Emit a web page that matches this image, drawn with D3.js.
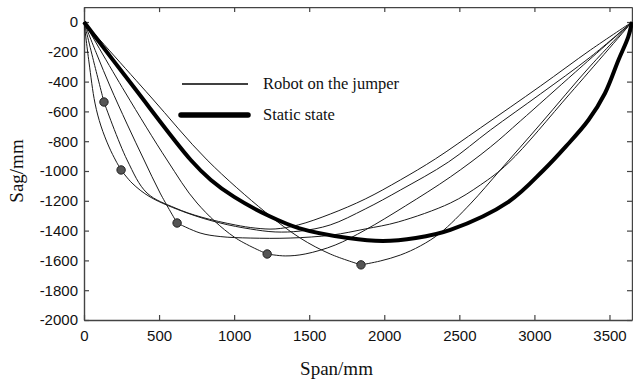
<!DOCTYPE html>
<html><head><meta charset="utf-8">
<script src="https://cdn.jsdelivr.net/npm/d3@7"></script>
<style>body{margin:0;background:#fff}svg{display:block}</style>
</head><body>
<svg id="c" width="633" height="386"></svg>
<script>
// ---------- data ----------
const xTicks = [0, 500, 1000, 1500, 2000, 2500, 3000, 3500];
const yTicks = [0, -200, -400, -600, -800, -1000, -1200, -1400, -1600, -1800, -2000];
const spanSupport = [[0, 0], [3650, 0]];
const legendLabels = ["Robot on the jumper", "Static state"];
const axisTitles = ["Span/mm", "Sag/mm"];

// static state (thick)
const staticState = [[0,0],[330,-435],[711,-926],[845,-1060],[1000,-1174],[1233,-1302],[1430,-1383],
  [1760,-1450],[1990,-1470],[2210,-1450],[2440,-1395],[2830,-1205],[3060,-995],[3210,-835],
  [3360,-658],[3470,-478],[3560,-255],[3625,-100],[3650,0]];

// robot positions (dots)
const robotX = [133, 247, 620, 1220, 1845];
const robotSag = [-537, -993, -1349, -1557, -1630];

// jumper shape: points between left support and robot
const robotLeft = [
  [[67,-275]],
  [[33,-268],[73,-544],[113,-698],[167,-839],[213,-933]],
  [[87,-221],[173,-430],[287,-685],[400,-926],[507,-1148]],
  [[273,-470],[553,-926],[753,-1215],[1000,-1443]],
  [[440,-497],[820,-926],[1207,-1275],[1440,-1450],[1640,-1557]]
];
// jumper shape: points between robot and right support
const robotRight = [
  [[287,-926],[420,-1148],[607,-1248],[780,-1309],[1007,-1362],[1140,-1383],[1273,-1389],[1427,-1362],
   [1640,-1289],[1873,-1188],[2107,-1060],[2340,-919],[2640,-711],[3040,-430],[3373,-188]],
  [[320,-1081],[440,-1174],[687,-1282],[907,-1349],[1107,-1389],[1273,-1409],[1440,-1403],[1640,-1362],
   [1873,-1255],[2107,-1128],[2427,-940],[2707,-725],[3040,-483],[3373,-235]],
  [[773,-1416],[907,-1440],[1107,-1450],[1373,-1450],[1651,-1430],[1873,-1389],[2093,-1342],[2440,-1215],
   [2640,-1094],[2827,-946],[3240,-477]],
  [[1340,-1570],[1473,-1557],[1673,-1497],[1873,-1396],[2140,-1235],[2440,-1040],[2707,-839],[2907,-664],[3273,-336]],
  [[1973,-1604],[2107,-1564],[2240,-1503],[2373,-1416],[2573,-1221],[2773,-993],[3040,-685],[3373,-295]]
];

// ---------- drawing ----------
const svg = d3.select("#c");
const x = d3.scaleLinear().domain([0, 3650]).range([84, 632]);
const y = d3.scaleLinear().domain([-2000, 100]).range([320, 7.1]);
const line = d3.line().x(d => x(d[0])).y(d => y(d[1])).curve(d3.curveCatmullRom.alpha(0.5));
const fmt = d => String(d);

const axisColor = "#444";
function styleAxis(g){
  g.selectAll(".domain").attr("stroke", axisColor).attr("stroke-width", 1.4);
  g.selectAll(".tick line").attr("stroke", axisColor).attr("stroke-width", 1.2);
  g.selectAll("text").attr("font-family", "Liberation Sans, Arial, sans-serif").attr("font-size", 15).attr("fill", "#111");
}
svg.append("g").attr("transform", `translate(0,${y(-2000)})`)
  .call(d3.axisBottom(x).tickValues(xTicks).tickFormat(fmt).tickSizeInner(-5).tickSizeOuter(0).tickPadding(10)).call(styleAxis);
svg.append("g").attr("transform", `translate(0,${y(100)})`)
  .call(d3.axisTop(x).tickValues(xTicks).tickSizeInner(-5).tickSizeOuter(0).tickFormat("")).call(styleAxis);
svg.append("g").attr("transform", `translate(${x(0)},0)`)
  .call(d3.axisLeft(y).tickValues(yTicks).tickFormat(fmt).tickSizeInner(-5).tickSizeOuter(0).tickPadding(6)).call(styleAxis);
svg.append("g").attr("transform", `translate(${x(3650)},0)`)
  .call(d3.axisRight(y).tickValues(yTicks).tickSizeInner(-5).tickSizeOuter(0).tickFormat("")).call(styleAxis);

// thin robot curves
robotX.forEach((rx, i) => {
  const dot = [rx, robotSag[i]];
  const left = [spanSupport[0], ...robotLeft[i], dot];
  const right = [dot, ...robotRight[i], spanSupport[1]];
  [left, right].forEach(seg => svg.append("path").attr("d", line(seg))
    .attr("fill", "none").attr("stroke", "#1a1a1a").attr("stroke-width", 1));
});
// static state thick
svg.append("path").attr("d", line(staticState)).attr("fill", "none")
  .attr("stroke", "#000").attr("stroke-width", 4).attr("stroke-linejoin", "round");

// dots
svg.selectAll("circle.robot").data(robotX).join("circle").attr("class", "robot")
  .attr("cx", d => x(d)).attr("cy", (d, i) => y(robotSag[i])).attr("r", 4.2)
  .attr("fill", "#555").attr("stroke", "#222").attr("stroke-width", 1);

// legend
const lg = svg.append("g");
lg.append("line").attr("x1", 182).attr("x2", 248).attr("y1", 84).attr("y2", 84)
  .attr("stroke", "#000").attr("stroke-width", 1.3);
lg.append("line").attr("x1", 181).attr("x2", 248).attr("y1", 115).attr("y2", 115)
  .attr("stroke", "#000").attr("stroke-width", 5.5).attr("stroke-linecap", "round");
lg.selectAll("text").data(legendLabels).join("text")
  .attr("x", 263).attr("y", (d, i) => i === 0 ? 89 : 120).text(d => d)
  .attr("font-family", "Liberation Serif, Times New Roman, serif").attr("font-size", 16.5).attr("fill", "#111");

// axis titles
svg.append("text").attr("x", 336.5).attr("y", 375).attr("text-anchor", "middle")
  .attr("font-family", "Liberation Serif, Times New Roman, serif").attr("font-size", 19).attr("fill", "#111")
  .text(axisTitles[0]);
svg.append("text").attr("transform", "translate(23,171) rotate(-90)").attr("text-anchor", "middle")
  .attr("font-family", "Liberation Serif, Times New Roman, serif").attr("font-size", 19).attr("fill", "#111")
  .text(axisTitles[1]);
</script>
</body></html>
